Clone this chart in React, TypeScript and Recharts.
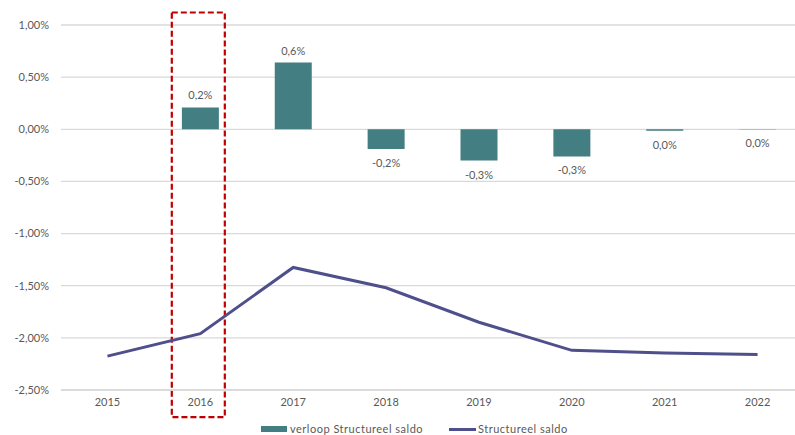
import React from 'react';
import { ComposedChart, Bar, Line, XAxis, YAxis, CartesianGrid, LabelList, ReferenceArea, Legend } from 'recharts';

const years = ['2015', '2016', '2017', '2018', '2019', '2020', '2021', '2022'];
const verloop = [null, 0.21, 0.64, -0.19, -0.3, -0.26, -0.015, -0.001];
const saldo = [-2.175, -1.96, -1.325, -1.52, -1.85, -2.12, -2.145, -2.16];
const yTicks = [-2.5, -2, -1.5, -1, -0.5, 0, 0.5, 1];

const BAR_COLOR = '#437E82';
const LINE_COLOR = '#4F4F8B';
const TEXT_COLOR = '#595959';
const FONT = 'Lato, "Open Sans", sans-serif';

const data = years.map((year, i) => ({ year, verloop: verloop[i], saldo: saldo[i] }));

const fmtPct = (v: number) => {
  const r = Math.abs(v) < 0.05 ? 0 : v;
  return r.toFixed(1).replace('.', ',') + '%';
};

const BarLabel = (props: any) => {
  const { x, y, width, height, value } = props;
  if (value === null || value === undefined) return null;
  const cx = x + width / 2;
  const top = Math.min(y, y + height);
  const bottom = Math.max(y, y + height);
  const above = value > 0.05;
  return (
    <text
      x={cx}
      y={above ? top - 8 : bottom + 18}
      textAnchor="middle"
      fontSize={11}
      fill={TEXT_COLOR}
      fontFamily={FONT}
    >
      {fmtPct(value)}
    </text>
  );
};

const HighlightBox = (props: any) => {
  const { x, y, width, height } = props;
  const w = 53;
  return (
    <rect
      x={x + (width - w) / 2 - 2}
      y={y}
      width={w}
      height={height}
      fill="none"
      stroke="#C00000"
      strokeWidth={2.2}
      strokeDasharray="6 3"
    />
  );
};

const LegendContent = () => (
  <div
    style={{
      height: 12,
      display: 'flex',
      alignItems: 'center',
      fontFamily: FONT,
      fontSize: 11,
      color: TEXT_COLOR,
      paddingLeft: 261,
      lineHeight: '12px',
      letterSpacing: 0.5,
    }}
  >
    <span style={{ display: 'inline-block', width: 26, height: 6, background: BAR_COLOR, marginRight: 3 }} />
    <span>verloop Structureel saldo</span>
    <span style={{ display: 'inline-block', width: 27, height: 3, background: LINE_COLOR, marginLeft: 26, marginRight: 2 }} />
    <span>Structureel saldo</span>
  </div>
);

export default function App() {
  return (
    <div style={{ position: 'absolute', left: 0, top: 0, width: 795, height: 435, overflow: 'hidden', background: '#fff' }}>
      <ComposedChart
        width={804}
        height={435}
        data={data}
        margin={{ top: 25, right: 0, bottom: 0, left: 0 }}
        barSize={37}
      >
        <CartesianGrid vertical={false} stroke="#D9D9D9" strokeWidth={1.3} />
        <XAxis
          dataKey="year"
          axisLine={{ stroke: '#D9D9D9', strokeWidth: 1.3 }}
          tickLine={false}
          tickSize={0}
          tickMargin={8}
          height={33}
          tick={{ fontSize: 11, fill: TEXT_COLOR, fontFamily: FONT }}
        />
        <YAxis
          width={61}
          domain={[-2.5, 1]}
          ticks={yTicks}
          axisLine={false}
          tickLine={false}
          tickSize={0}
          tickMargin={12}
          tickFormatter={(v: number) => v.toFixed(2).replace('.', ',') + '%'}
          tick={{ fontSize: 11, fill: TEXT_COLOR, fontFamily: FONT }}
        />
        <Legend verticalAlign="bottom" align="left" content={LegendContent} wrapperStyle={{ height: 12 }} />
        <ReferenceArea
          x1="2016"
          x2="2016"
          y1={1.12}
          y2={-2.76}
          ifOverflow="visible"
          shape={HighlightBox}
        />
        <Bar dataKey="verloop" name="verloop Structureel saldo" fill={BAR_COLOR} isAnimationActive={false}>
          <LabelList dataKey="verloop" content={BarLabel} />
        </Bar>
        <Line
          dataKey="saldo"
          name="Structureel saldo"
          type="linear"
          stroke={LINE_COLOR}
          strokeWidth={3}
          dot={false}
          activeDot={false}
          isAnimationActive={false}
        />
      </ComposedChart>
    </div>
  );
}
